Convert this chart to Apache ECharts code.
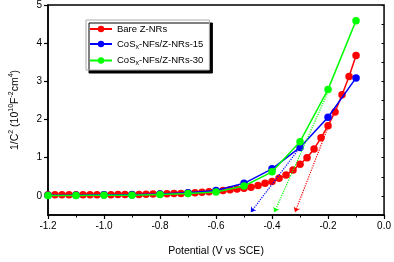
<!DOCTYPE html>
<html>
<head>
<meta charset="utf-8">
<script src="https://cdn.jsdelivr.net/npm/echarts@6/dist/echarts.min.js"></script>
<style>html,body{margin:0;padding:0;background:#fff}#c{width:394px;height:262px}</style>
</head>
<body>
<div id="c"></div>
<script>
// ---- data ----
const redX = [-1.2,-1.175,-1.15,-1.125,-1.1,-1.075,-1.05,-1.025,-1.0,-0.975,-0.95,-0.925,-0.9,-0.875,-0.85,-0.825,-0.8,-0.775,-0.75,-0.725,-0.7,-0.675,-0.65,-0.625,-0.6,-0.575,-0.55,-0.525,-0.5,-0.475,-0.45,-0.425,-0.4,-0.375,-0.35,-0.325,-0.3,-0.275,-0.25,-0.225,-0.2,-0.175,-0.15,-0.125,-0.1];
const redY = [0.03,0.03,0.03,0.03,0.03,0.03,0.03,0.03,0.03,0.03,0.035,0.035,0.04,0.04,0.045,0.05,0.05,0.055,0.06,0.065,0.075,0.085,0.095,0.11,0.125,0.14,0.16,0.18,0.2,0.23,0.27,0.33,0.38,0.46,0.55,0.68,0.83,1.0,1.23,1.52,1.84,2.2,2.65,3.13,3.68];
const ptX = [-1.2,-1.1,-1.0,-0.9,-0.8,-0.7,-0.6,-0.5,-0.4,-0.3,-0.2,-0.1];
const blueY = [0.02,0.02,0.03,0.03,0.05,0.08,0.14,0.33,0.71,1.27,2.06,3.09];
const greenY = [0.01,0.01,0.02,0.02,0.04,0.06,0.10,0.26,0.63,1.42,2.79,4.59];
const redTangent = [[-0.2,1.80],[-0.318,-0.43]];
const blueTangent = [[-0.3,1.27],[-0.476,-0.43]];
const greenTangent = [[-0.2,2.72],[-0.392,-0.43]];
const seriesNames = ['Bare Z-NRs','CoSx-NFs/Z-NRs-15','CoSx-NFs/Z-NRs-30'];
const yTickValues = [0,1,2,3,4,5];
const xTickLabels = ['-1.2','-1.0','-0.8','-0.6','-0.4','-0.2','0.0'];

const zip = (xs, ys) => xs.map((x, i) => [x, ys[i]]);
const tangent = (t, color) => ({
  silent: true,
  symbol: ['none', 'arrow'],
  symbolSize: 5,
  label: {show: false},
  lineStyle: {type: 'dotted', width: 1.2, color: color, opacity: 1},
  itemStyle: {color: color},
  emphasis: {disabled: true},
  data: [[{coord: t[0]}, {coord: t[1]}]]
});

const FONT = '"Liberation Sans", Arial, sans-serif';
const chart = echarts.init(document.getElementById('c'), null, {renderer: 'canvas'});
const colors = ['#ff0000', '#0000ff', '#00ff00'];
chart.setOption({
  animation: false,
  textStyle: {fontFamily: FONT},
  grid: {left: 40, right: 8, top: 5, bottom: 43, show: true, borderColor: '#000', borderWidth: 1.5, backgroundColor: 'transparent'},
  legend: {
    orient: 'vertical', left: 86, top: 20,
    itemWidth: 22, itemHeight: 8, itemGap: 5,
    padding: [4, 6, 3, 3],
    backgroundColor: '#fff', borderColor: '#aaa', borderWidth: 1,
    shadowColor: '#000', shadowBlur: 0, shadowOffsetX: 3, shadowOffsetY: 3,
    data: seriesNames,
    formatter: function (name) {
      if (name.indexOf('CoSx') === 0) return '{a|CoS}{s|x}{a|' + name.slice(4) + '}';
      return '{a|' + name + '}';
    },
    textStyle: {
      fontFamily: FONT,
      rich: {
        a: {fontSize: 9.5, color: '#000', fontFamily: FONT, lineHeight: 13},
        s: {fontSize: 7, color: '#000', fontFamily: FONT, verticalAlign: 'bottom', lineHeight: 7}
      }
    }
  },
  xAxis: {
    type: 'value', min: -1.2, max: 0, interval: 0.2,
    axisLine: {onZero: false, lineStyle: {color: '#000', width: 1.5}},
    axisTick: {length: 4, lineStyle: {color: '#000', width: 1.2}},
    minorTick: {show: true, splitNumber: 2, length: 2.5, lineStyle: {color: '#000', width: 1}},
    splitLine: {show: false},
    axisLabel: {color: '#000', fontSize: 10, fontFamily: FONT, margin: 6,
      formatter: function (v) { const i = Math.round((v + 1.2) / 0.2); return xTickLabels[i] !== undefined ? xTickLabels[i] : ''; }},
    name: 'Potential (V vs SCE)', nameLocation: 'middle', nameGap: 31,
    nameTextStyle: {color: '#000', fontSize: 10.5, fontFamily: FONT}
  },
  yAxis: [{
    type: 'value', min: -0.5, max: 5,
    axisLine: {onZero: false, lineStyle: {color: '#000', width: 1.5}},
    axisTick: {length: 4, customValues: yTickValues, lineStyle: {color: '#000', width: 1.2}},
    splitLine: {show: false},
    axisLabel: {color: '#000', fontSize: 10, fontFamily: FONT, margin: 6, customValues: yTickValues},
    name: '{a|1/C}{p|2}{a| (10}{p|10}{a|F}{p|-2}{a|cm}{p|4}{a|)}',
    nameLocation: 'middle', nameGap: 25, nameRotate: 90,
    nameTextStyle: {
      color: '#000', fontFamily: FONT,
      rich: {
        a: {fontSize: 10.5, color: '#000', fontFamily: FONT, lineHeight: 15},
        p: {fontSize: 7, color: '#000', fontFamily: FONT, verticalAlign: 'top', lineHeight: 7}
      }
    }
  }, {
    type: 'value', min: -0.5, max: 5, interval: 0.5, position: 'left',
    axisLine: {show: false},
    axisTick: {show: true, length: 2.5, lineStyle: {color: '#000', width: 1}},
    axisLabel: {show: false},
    splitLine: {show: false}
  }],
  series: [
    {name: seriesNames[0], type: 'line', data: zip(redX, redY), yAxisIndex: 0,
      symbol: 'circle', symbolSize: 7.5, color: colors[0],
      lineStyle: {width: 1.5, color: colors[0]}, itemStyle: {color: colors[0]},
      markLine: tangent(redTangent, colors[0]), z: 2},
    {name: seriesNames[1], type: 'line', data: zip(ptX, blueY), yAxisIndex: 0,
      symbol: 'circle', symbolSize: 7.5, color: colors[1],
      lineStyle: {width: 1.5, color: colors[1]}, itemStyle: {color: colors[1]},
      markLine: tangent(blueTangent, colors[1]), z: 3},
    {name: seriesNames[2], type: 'line', data: zip(ptX, greenY), yAxisIndex: 0,
      symbol: 'circle', symbolSize: 7.5, color: colors[2],
      lineStyle: {width: 1.5, color: colors[2]}, itemStyle: {color: colors[2]},
      markLine: tangent(greenTangent, colors[2]), z: 4}
  ]
});
</script>
</body>
</html>
